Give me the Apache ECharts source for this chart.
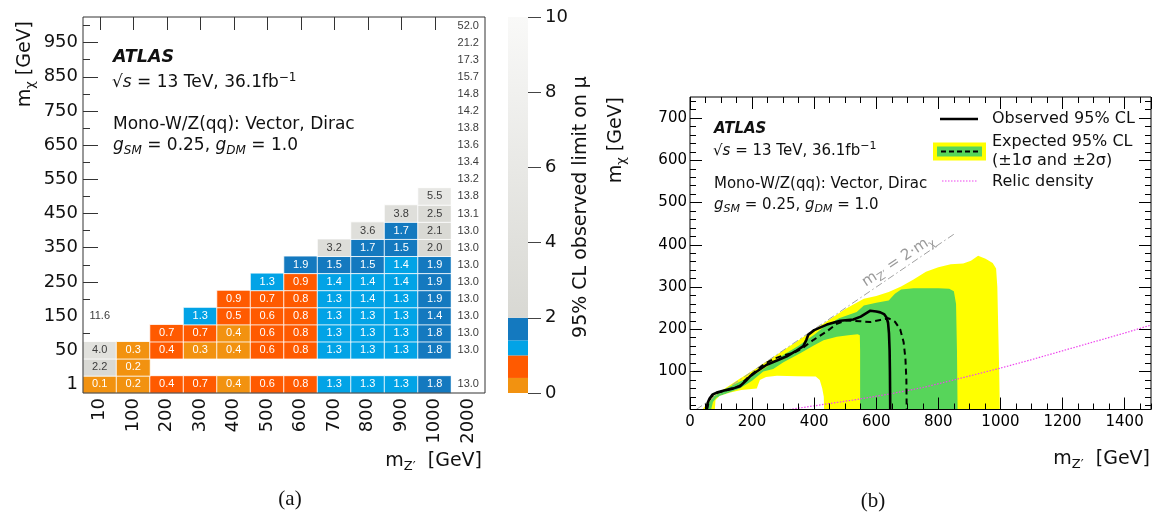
<!DOCTYPE html>
<html><head><meta charset="utf-8">
<script src="https://cdn.jsdelivr.net/npm/echarts@6/dist/echarts.min.js"></script>
<style>html,body{margin:0;padding:0;background:#fff}#c{width:1153px;height:512px}</style>
</head><body><div id="c"></div>
<script>
// ---------- (a) heat map data ----------
const mZprime = ['10','100','200','300','400','500','600','700','800','900','1000','2000'];
const mChi = ['1','10','50','100','150','200','250','300','350','400','450','500','550','600','650','700','750','800','850','900','950','1000'];
const _ = null;
// rows follow mChi (bottom to top), columns follow mZprime
const muLimit = [
 [0.1,0.2,0.42,0.7,0.38,0.6,0.8,1.3,1.3,1.3,1.8,13.0],
 [2.2,0.2,_,_,_,_,_,_,_,_,_,_],
 [4.0,0.3,0.42,0.3,0.38,0.6,0.8,1.3,1.3,1.3,1.8,13.0],
 [_,_,0.7,0.7,0.38,0.6,0.8,1.3,1.3,1.3,1.8,13.0],
 [11.6,_,_,1.3,0.5,0.6,0.8,1.3,1.3,1.3,1.42,13.0],
 [_,_,_,_,0.9,0.7,0.8,1.3,1.38,1.3,1.9,13.0],
 [_,_,_,_,_,1.3,0.9,1.38,1.38,1.38,1.9,13.0],
 [_,_,_,_,_,_,1.9,1.5,1.5,1.38,1.9,13.0],
 [_,_,_,_,_,_,_,3.2,1.7,1.5,2.0,13.0],
 [_,_,_,_,_,_,_,_,3.6,1.7,2.1,13.0],
 [_,_,_,_,_,_,_,_,_,3.8,2.5,13.1],
 [_,_,_,_,_,_,_,_,_,_,5.5,13.8],
 [_,_,_,_,_,_,_,_,_,_,_,13.2],
 [_,_,_,_,_,_,_,_,_,_,_,13.4],
 [_,_,_,_,_,_,_,_,_,_,_,13.6],
 [_,_,_,_,_,_,_,_,_,_,_,13.8],
 [_,_,_,_,_,_,_,_,_,_,_,14.2],
 [_,_,_,_,_,_,_,_,_,_,_,14.8],
 [_,_,_,_,_,_,_,_,_,_,_,15.7],
 [_,_,_,_,_,_,_,_,_,_,_,17.3],
 [_,_,_,_,_,_,_,_,_,_,_,21.2],
 [_,_,_,_,_,_,_,_,_,_,_,52.0]
];
// colour scale (z axis)
const cbEdges = [0, 0.4, 1.0, 1.4, 2.0, 10];
const cbTicks = [0, 2, 4, 6, 8, 10];

// ---------- (b) exclusion contour data (mZ', mChi) ----------
const yellowOuter = [[40,10],[55,25],[70,38],[100,54],[160,83],[200,101],[300,150],[400,199],[500,248],[560,272],[600,279],[640,288],[680,301],[720,318],[760,336],[800,347],[840,354],[880,356],[905,362],[928,374],[952,367],[975,357],[986,344],[990,300],[993,200],[996,100],[998,10]];
const greenOuter = [[50,10],[62,28],[75,40],[107,56],[160,76],[215,96],[260,118],[300,139],[350,161],[400,187],[430,205],[480,226],[537,241],[560,256],[600,263],[640,268],[660,284],[680,294],[720,297],[800,297],[835,296],[850,290],[857,260],[860,150],[862,10]];
const greenInner = [[68,10],[74,28],[85,38],[107,45],[160,60],[200,78],[236,100],[268,106],[301,122],[355,143],[400,162],[430,174],[473,182],[510,186],[540,188],[547,186],[548,150],[548,10]];
const yellowInner = [[80,10],[82,32],[95,42],[130,50],[165,56],[215,60],[225,80],[245,87],[280,90],[345,89],[405,88],[418,80],[426,60],[431,40],[432,10]];
const observed = [[53,10],[57,26],[63,36],[72,45],[86,50],[110,55],[140,60],[161,65],[180,78],[194,89],[215,100],[247,116],[280,126],[312,136],[340,148],[365,160],[375,175],[381,187],[400,198],[441,211],[484,220],[526,223],[550,230],[581,244],[600,242],[613,240],[625,236],[633,228],[638,215],[641,190],[643,150],[644,100],[645,10]];
const expected = [[55,10],[60,27],[66,38],[78,46],[90,50],[120,56],[160,66],[185,85],[210,100],[240,118],[270,130],[300,138],[333,144],[350,150],[365,157],[398,175],[441,195],[473,213],[505,221],[548,219],[581,217],[613,222],[640,226],[660,218],[677,200],[688,170],[694,130],[697,80],[698,10]];
const relic = [[320,10],[430,22],[540,34],[645,47],[750,62],[850,80],[1000,108],[1100,128],[1200,149],[1300,170],[1400,191],[1485,210]];
const diagonal = [[20,10],[850,425]];
const yMajorTicks = [100,200,300,400,500,600,700];
const yMinorTicks = [20,40,60,80,120,140,160,180,220,240,260,280,320,340,360,380,420,440,460,480,520,540,560,580,620,640,660,680,720,740];

// ---------- styling ----------
const FONT = "'DejaVu Sans', 'Liberation Sans', sans-serif";
const C = {orange:'#f29210', red:'#ff5a00', lblue:'#02a3e6', dblue:'#1479bf', yellow:'#ffff00', green:'#57d55a'};
const cbColors = [C.orange, C.red, C.lblue, C.dblue];
const gLo = [216,216,211], gHi = [249,249,248];
function grayAt(v){ const t = Math.max(0, Math.min(1, (v-2)/8)); return 'rgb(' + gLo.map((a,k)=>Math.round(a+(gHi[k]-a)*t)).join(',') + ')'; }

const pieces = [];
for (let k = 0; k < cbColors.length; k++) pieces.push({gte:cbEdges[k], lt:cbEdges[k+1], color:cbColors[k]});
for (let v = 2; v < 10; v += 0.5) pieces.push({gte:v, lt:v+0.5, color:grayAt(v+0.25)});
pieces.push({gte:10, color:'#ffffff'});

const heatData = [];
muLimit.forEach((row, j) => row.forEach((v, i) => {
  if (v !== null) heatData.push({value:[i, j, v], label:{color: v < 2 ? '#ffffff' : '#3c3c3c'}});
}));
const cbSegments = [];
for (let k = 0; k < cbEdges.length-1; k++) cbSegments.push([cbEdges[k], cbEdges[k+1]]);
// tick positions of the category cells (cell centres)
const colCenters = mZprime.map((c, i) => i + 0.5);
const rowMajor = mChi.map((c, j) => j + 0.5).filter((v, j) => j % 2 === 0);
const rowMinor = mChi.map((c, j) => j + 0.5).filter((v, j) => j % 2 === 1);

function richSet(size, col, fam){
  const f = fam || FONT, s = Math.round(size*0.7);
  return {
    n:{fontSize:size, fontFamily:f, fill:col},
    i:{fontSize:size, fontFamily:f, fill:col, fontStyle:'italic'},
    sub:{fontSize:s, fontFamily:f, fill:col, padding:[Math.round(size*0.6),0,0,0]},
    isub:{fontSize:s, fontFamily:f, fill:col, fontStyle:'italic', padding:[Math.round(size*0.6),0,0,0]},
    sup:{fontSize:s, fontFamily:f, fill:col, padding:[0,0,Math.round(size*0.6),0]}
  };
}
function T(x, y, text, size, o){
  o = o || {};
  const col = o.color || '#111';
  return {type:'text', x:x, y:y, rotation:o.rot||0, silent:true, z:100,
    style:{text:text, fill:col, fontSize:size, fontFamily:o.family||FONT, fontWeight:o.weight||'normal',
      fontStyle:o.style||'normal', align:o.align||'left', verticalAlign:'middle', rich:richSet(size, col, o.family)}};
}
const R90 = Math.PI/2;
const graphics = [
  // panel (a)
  T(113, 57, 'ATLAS', 17.5, {weight:'bold', style:'italic'}),
  T(112, 83, '{n|√}{i|s}{n| = 13 TeV, 36.1fb}{sup|−1}', 17),
  T(113, 125, 'Mono-W/Z(qq): Vector, Dirac', 17),
  T(113, 146, '{i|g}{isub|SM}{n| = 0.25, }{i|g}{isub|DM}{n| = 1.0}', 17),
  T(25, 21, '{n|m}{sub|χ}{n| [GeV]}', 19, {rot:R90, align:'right'}),
  T(482, 461, '{n|m}{sub|Z′}{n|  [GeV]}', 19, {align:'right'}),
  T(581, 207, '95% CL observed limit on μ', 19, {rot:R90, align:'center'}),
  T(290, 499, '(a)', 21, {family:"'Liberation Serif', serif", align:'center'}),
  // panel (b)
  T(714, 129, 'ATLAS', 15, {weight:'bold', style:'italic'}),
  T(713, 151, '{n|√}{i|s}{n| = 13 TeV, 36.1fb}{sup|−1}', 15),
  T(714, 184, 'Mono-W/Z(qq): Vector, Dirac', 15),
  T(714, 205, '{i|g}{isub|SM}{n| = 0.25, }{i|g}{isub|DM}{n| = 1.0}', 15),
  T(616, 97, '{n|m}{sub|χ}{n| [GeV]}', 19, {rot:R90, align:'right'}),
  T(1150, 459, '{n|m}{sub|Z′}{n|  [GeV]}', 19, {align:'right'}),
  T(898, 261, '{n|m}{sub|Z′}{n| = 2·m}{sub|χ}', 15, {color:'#9a9a9a', rot:0.58, align:'center'}),
  T(873, 501, '(b)', 21, {family:"'Liberation Serif', serif", align:'center'}),
  // legend of (b)
  {type:'line', z:100, silent:true, shape:{x1:940,y1:119,x2:978,y2:119}, style:{stroke:'#000', lineWidth:2.5}},
  T(992, 119, 'Observed 95% CL', 16),
  {type:'rect', z:100, silent:true, shape:{x:933,y:142.5,width:53,height:18}, style:{fill:C.yellow}},
  {type:'rect', z:101, silent:true, shape:{x:937,y:146.5,width:45,height:10}, style:{fill:C.green}},
  {type:'line', z:102, silent:true, shape:{x1:941,y1:151.5,x2:979,y2:151.5}, style:{stroke:'#000', lineWidth:1.8, lineDash:[5,3]}},
  T(992, 141.5, 'Expected 95% CL', 16),
  T(992, 160.5, '(±1σ and ±2σ)', 16),
  {type:'line', z:100, silent:true, shape:{x1:942,y1:181,x2:977,y2:181}, style:{stroke:'#ee44ee', lineWidth:1.2, lineDash:[1.5,1.5]}},
  T(992, 182, 'Relic density', 16)
];

const noSplit = {show:false};
const plain = (v) => String(v);
function bandSeries(data, color){
  return {type:'line', xAxisIndex:3, yAxisIndex:4, data:data, symbol:'none', silent:true,
    lineStyle:{opacity:0}, areaStyle:{color:color, opacity:1, origin:'start'}};
}
function vAxis(grid, pos, z, extra){
  return Object.assign({type:'value', gridIndex:grid, position:pos, z:z, splitLine:noSplit, axisLine:{show:false, onZero:false}}, extra);
}
function tick(len, col, extra){ return Object.assign({show:true, inside:true, length:len, lineStyle:{color:col, width:1}}, extra || {}); }

const option = {
  animation:false,
  backgroundColor:'#ffffff',
  grid:[
    {left:83, top:17, width:402, height:376, show:true, borderColor:'#333', borderWidth:1, z:8},
    {left:508, top:17, width:20, height:376, show:false},
    {left:690, top:97, width:461, height:312.5, show:true, borderColor:'#000', borderWidth:1, z:6}
  ],
  visualMap:[{type:'piecewise', show:false, seriesIndex:0, dimension:2, pieces:pieces}],
  xAxis:[
    {type:'category', gridIndex:0, data:mZprime, position:'bottom', axisLine:{show:false, onZero:false}, axisTick:{show:false},
      axisLabel:{rotate:90, interval:0, fontSize:18, color:'#111', margin:5, fontFamily:FONT}, splitLine:noSplit},
    vAxis(0, 'top', 5, {min:0, max:mZprime.length, axisTick:tick(13, '#333', {customValues:colCenters}), axisLabel:{show:false}}),
    {type:'value', gridIndex:1, min:0, max:1, show:false},
    vAxis(2, 'bottom', 5, {min:0, max:1485, interval:200, axisTick:tick(12, '#000'),
      axisLabel:{fontSize:15, color:'#000', margin:5, fontFamily:FONT, showMaxLabel:false, formatter:plain}}),
    vAxis(2, 'bottom', 5, {min:0, max:1485, interval:50, axisTick:tick(6, '#000'), axisLabel:{show:false}}),
    vAxis(2, 'top', 5, {min:0, max:1485, interval:200, axisTick:tick(12, '#000'), axisLabel:{show:false}}),
    vAxis(2, 'top', 5, {min:0, max:1485, interval:50, axisTick:tick(6, '#000'), axisLabel:{show:false}})
  ],
  yAxis:[
    {type:'category', gridIndex:0, data:mChi, position:'left', axisLine:{show:false, onZero:false}, axisTick:{show:false},
      axisLabel:{interval:(i) => i % 2 === 0, fontSize:18, color:'#111', margin:5, fontFamily:FONT}, splitLine:noSplit},
    vAxis(0, 'left', 5, {min:0, max:mChi.length, axisTick:tick(15, '#333', {customValues:rowMajor}), axisLabel:{show:false}}),
    vAxis(0, 'left', 5, {min:0, max:mChi.length, axisTick:tick(7, '#333', {customValues:rowMinor}), axisLabel:{show:false}}),
    vAxis(1, 'right', 5, {min:0, max:10, interval:2, axisTick:tick(13, '#444', {inside:false, customValues:cbTicks}),
      axisLabel:{fontSize:18, color:'#111', margin:17, fontFamily:FONT, customValues:cbTicks}}),
    vAxis(2, 'left', 5, {min:10, max:750, axisTick:tick(12, '#000', {customValues:yMajorTicks}),
      axisLabel:{customValues:yMajorTicks, fontSize:15, color:'#000', margin:3, fontFamily:FONT}}),
    vAxis(2, 'left', 5, {min:10, max:750, axisTick:tick(6, '#000', {customValues:yMinorTicks}), axisLabel:{show:false}}),
    vAxis(2, 'right', 5, {min:10, max:750, axisTick:tick(12, '#000', {customValues:yMajorTicks}), axisLabel:{show:false}}),
    vAxis(2, 'right', 5, {min:10, max:750, axisTick:tick(6, '#000', {customValues:yMinorTicks}), axisLabel:{show:false}})
  ],
  series:[
    {type:'heatmap', xAxisIndex:0, yAxisIndex:0, data:heatData, silent:true, z:7,
      itemStyle:{borderColor:'rgba(255,255,255,0.85)', borderWidth:1},
      label:{show:true, fontSize:11, fontFamily:"'Liberation Sans', sans-serif", formatter:(p)=>p.value[2].toFixed(1)},
      emphasis:{disabled:true}},
    {type:'custom', xAxisIndex:2, yAxisIndex:3, data:cbSegments, silent:true,
      renderItem:(params, api) => {
        const lo = api.value(0), hi = api.value(1);
        const p1 = api.coord([0, hi]), p2 = api.coord([1, lo]);
        const k = params.dataIndex;
        const fill = k < cbColors.length ? cbColors[k] :
          new echarts.graphic.LinearGradient(0, 1, 0, 0, [{offset:0, color:grayAt(lo)}, {offset:1, color:grayAt(hi)}]);
        return {type:'rect', shape:{x:p1[0], y:p1[1], width:p2[0]-p1[0], height:p2[1]-p1[1]}, style:{fill:fill}};
      }},
    bandSeries(yellowOuter, C.yellow),
    bandSeries(greenOuter, C.green),
    bandSeries(greenInner, C.yellow),
    bandSeries(yellowInner, '#ffffff'),
    {type:'line', xAxisIndex:3, yAxisIndex:4, data:diagonal, symbol:'none', silent:true,
      lineStyle:{color:'#a0a0a0', width:1, type:[7,3,1.5,3]}},
    {type:'line', xAxisIndex:3, yAxisIndex:4, data:relic, symbol:'none', silent:true,
      lineStyle:{color:'#ee44ee', width:1.2, type:[1.5,1.5]}},
    {type:'line', xAxisIndex:3, yAxisIndex:4, data:expected, symbol:'none', silent:true,
      lineStyle:{color:'#000', width:2, type:[6,4]}},
    {type:'line', xAxisIndex:3, yAxisIndex:4, data:observed, symbol:'none', silent:true,
      lineStyle:{color:'#000', width:2.6}}
  ],
  graphic:graphics
};
const chart = echarts.init(document.getElementById('c'));
chart.setOption(option);
</script>
</body></html>
